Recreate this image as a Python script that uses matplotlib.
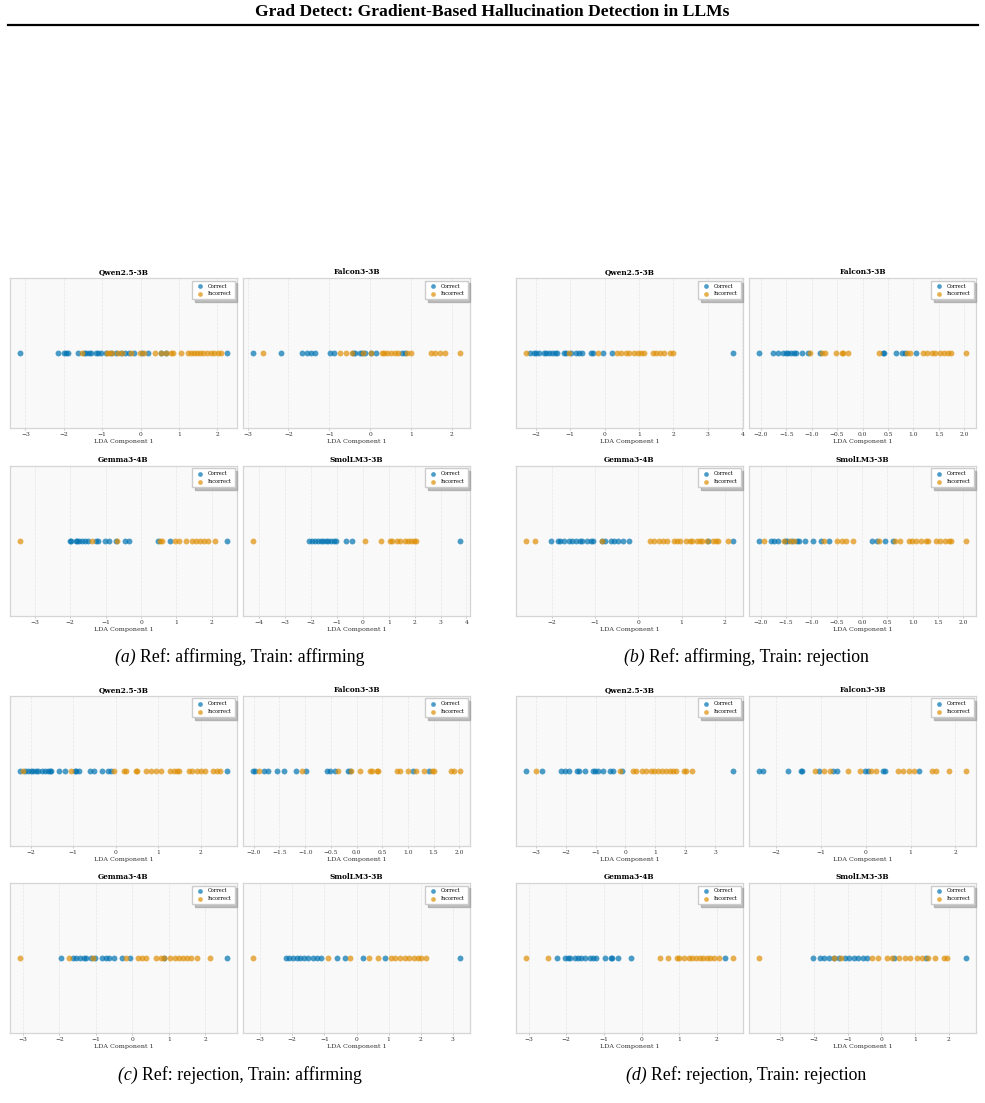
import numpy as np
import matplotlib
matplotlib.use("Agg")
import matplotlib.pyplot as plt

plt.rcParams['font.family'] = 'DejaVu Serif'
plt.rcParams['axes.unicode_minus'] = True

# ---- data (LDA component 1 values) ----
models = ["Qwen2.5-3B", "Falcon3-3B", "Gemma3-4B", "SmolLM3-3B"]
tags = ["(a)", "(b)", "(c)", "(d)"]
captions = ["Ref: affirming, Train: affirming", "Ref: affirming, Train: rejection",
            "Ref: rejection, Train: affirming", "Ref: rejection, Train: rejection"]

# (a) Ref affirming / Train affirming
a_qwen_c = [-3.13, -2.16, -2.0, -1.94, -1.88, -1.62, -1.48, -1.42, -1.35, -1.3, -1.17, -1.12,
            -1.03, -0.9, -0.78, -0.65, -0.52, -0.4, -0.3, -0.17, 0.04, 0.18, 0.53, 0.65, 2.24]
a_qwen_i = [-1.52, -0.88, -0.82, -0.74, -0.6, -0.48, -0.25, -0.02, 0.1, 0.37, 0.52, 0.67, 0.78,
            0.84, 1.04, 1.24, 1.31, 1.4, 1.48, 1.55, 1.63, 1.72, 1.82, 1.9, 2.02, 2.1]
a_falcon_c = [-2.86, -2.18, -1.66, -1.54, -1.44, -1.34, -0.99, -0.89, -0.42, -0.38, -0.25, -0.2,
              -0.13, 0.02, 0.14, 0.77, 0.84]
a_falcon_i = [-2.63, -0.75, -0.58, -0.44, -0.17, 0.03, 0.28, 0.34, 0.4, 0.52, 0.6, 0.67, 0.89, 0.99,
              1.48, 1.59, 1.71, 1.84, 2.19]
a_gemma_c = [-2.01, -1.97, -1.85, -1.8, -1.76, -1.66, -1.57, -1.5, -1.27, -1.21, -1.03, -0.91,
             -0.72, -0.46, -0.34, 0.49, 0.82, 2.42]
a_gemma_i = [-3.41, -1.38, -0.67, 0.54, 0.6, 0.96, 1.06, 1.27, 1.43, 1.55, 1.67, 1.79, 1.88, 2.1]
a_smol_c = [-2.08, -1.95, -1.86, -1.73, -1.63, -1.54, -1.41, -1.35, -1.22, -1.11, -1.02, -0.66,
            -0.4, 3.74]
a_smol_i = [-4.23, 0.08, 0.72, 1.05, 1.11, 1.31, 1.44, 1.61, 1.73, 1.86, 1.98, 2.05]

# (b) Ref affirming / Train rejection
b_qwen_c = [-2.15, -2.05, -1.98, -1.9, -1.76, -1.69, -1.61, -1.52, -1.44, -1.37, -1.18, -1.13,
            -0.98, -0.84, -0.74, -0.66, -0.4, -0.33, -0.03, 0.21, 3.72]
b_qwen_i = [-2.27, -1.03, -0.2, 0.36, 0.48, 0.62, 0.72, 0.87, 0.97, 1.06, 1.16, 1.4, 1.5, 1.62,
            1.74, 1.89, 2.0]
b_falcon_c = [-2.03, -1.76, -1.66, -1.56, -1.51, -1.46, -1.41, -1.34, -1.3, -1.2, -1.07, -0.84,
              0.41, 0.43, 0.66, 0.78, 0.83, 1.06]
b_falcon_i = [-1.03, -0.8, -0.74, -0.53, -0.41, -0.38, -0.29, 0.32, 0.88, 0.94, 1.19, 1.27, 1.36,
              1.43, 1.53, 1.61, 1.68, 1.74, 2.03]
b_gemma_c = [-2.03, -1.86, -1.81, -1.72, -1.61, -1.53, -1.45, -1.36, -1.3, -1.18, -1.1, -1.05,
             -0.83, -0.77, -0.64, -0.56, -0.46, -0.35, -0.21, 1.62, 2.18]
b_gemma_i = [-2.59, -2.38, -0.85, 0.28, 0.37, 0.47, 0.57, 0.67, 0.82, 0.89, 0.97, 1.09, 1.19,
             1.24, 1.36, 1.42, 1.48, 1.58, 1.73, 1.79, 1.85, 2.08]
b_smol_c = [-2.03, -1.8, -1.74, -1.67, -1.52, -1.49, -1.39, -1.29, -1.24, -1.13, -0.96, -0.81,
            -0.66, 0.2, 0.3, 0.46, 0.62]
b_smol_i = [-1.93, -1.54, -1.42, -1.34, -0.75, -0.5, -0.4, -0.32, -0.18, 0.33, 0.66, 0.76, 0.93,
            0.99, 1.06, 1.16, 1.26, 1.3, 1.46, 1.54, 1.64, 1.72, 1.75, 2.05]

# (c) Ref rejection / Train affirming
c_qwen_c = [-2.24, -2.12, -2.06, -2.0, -1.94, -1.88, -1.82, -1.73, -1.66, -1.6, -1.55, -1.51,
            -1.33, -1.18, -0.96, -0.92, -0.85, -0.6, -0.51, -0.33, -0.17, -0.12, 2.61]
c_qwen_i = [-2.17, -1.04, -0.04, 0.2, 0.24, 0.47, 0.51, 0.71, 0.84, 0.94, 1.07, 1.28, 1.37, 1.45,
            1.5, 1.73, 1.79, 1.91, 2.0, 2.09, 2.29, 2.38, 2.45]
c_falcon_c = [-2.01, -1.98, -1.81, -1.72, -1.54, -1.41, -1.17, -0.99, -0.58, -0.52, -0.42, -0.16,
              -0.13, 1.1, 1.41]
c_falcon_i = [-1.9, -1.07, -0.36, -0.1, 0.06, 0.26, 0.31, 0.39, 0.42, 0.79, 0.84, 1.01, 1.16, 1.31,
              1.48, 1.51, 1.85, 1.9, 2.01]
c_gemma_c = [-1.95, -1.62, -1.53, -1.44, -1.33, -1.26, -1.14, -1.01, -0.84, -0.71, -0.64, -0.5,
             -0.27, -0.06, 0.87, 2.59]
c_gemma_i = [-3.07, -1.74, -1.07, -0.18, 0.16, 0.27, 0.37, 0.64, 0.78, 0.87, 1.03, 1.17, 1.28,
             1.4, 1.51, 1.6, 1.77, 2.12]
c_smol_c = [-2.19, -2.09, -1.99, -1.86, -1.76, -1.64, -1.5, -1.34, -1.24, -1.09, -0.62, -0.36,
            0.21, 0.88, 3.21]
c_smol_i = [-3.21, -0.88, -0.19, 0.38, 0.67, 1.06, 1.19, 1.34, 1.5, 1.63, 1.78, 1.91, 2.02, 2.15]

# (d) Ref rejection / Train rejection
d_qwen_c = [-3.32, -2.78, -2.15, -2.02, -1.9, -1.62, -1.54, -1.34, -1.1, -1.01, -0.92, -0.76,
            -0.53, -0.43, -0.11, 3.59]
d_qwen_i = [-3.0, -0.17, 0.25, 0.34, 0.54, 0.69, 0.84, 0.95, 1.1, 1.23, 1.37, 1.48, 1.59, 1.7,
            1.96, 2.02, 2.22]
d_falcon_c = [-2.37, -2.29, -1.73, -1.45, -1.41, -1.03, -0.72, -0.63, -0.01, 0.06, 0.39, 0.43, 1.19]
d_falcon_i = [-1.13, -0.93, -0.8, -0.39, -0.13, 0.13, 0.24, 0.72, 0.83, 0.97, 1.08, 1.47, 1.56,
              1.86, 2.23]
d_gemma_c = [-2.24, -2.04, -1.95, -1.89, -1.76, -1.69, -1.6, -1.49, -1.38, -1.29, -1.2, -0.98,
             -0.82, -0.78, -0.62, -0.27, 2.22]
d_gemma_i = [-3.06, -2.48, 0.49, 0.71, 0.93, 0.99, 1.13, 1.26, 1.35, 1.45, 1.55, 1.64, 1.73, 1.81,
             1.92, 2.06, 2.42]
d_smol_c = [-2.04, -1.83, -1.71, -1.56, -1.42, -1.27, -1.09, -0.97, -0.82, -0.69, -0.55, -0.43,
            0.37, 1.31, 2.5]
d_smol_i = [-3.62, -1.42, -1.19, -0.28, -0.1, 0.17, 0.32, 0.51, 0.71, 0.86, 1.06, 1.21, 1.39, 1.6,
            1.85, 1.95]

panels = [
    [(a_qwen_c, a_qwen_i), (a_falcon_c, a_falcon_i), (a_gemma_c, a_gemma_i), (a_smol_c, a_smol_i)],
    [(b_qwen_c, b_qwen_i), (b_falcon_c, b_falcon_i), (b_gemma_c, b_gemma_i), (b_smol_c, b_smol_i)],
    [(c_qwen_c, c_qwen_i), (c_falcon_c, c_falcon_i), (c_gemma_c, c_gemma_i), (c_smol_c, c_smol_i)],
    [(d_qwen_c, d_qwen_i), (d_falcon_c, d_falcon_i), (d_gemma_c, d_gemma_i), (d_smol_c, d_smol_i)],
]

BLUE = '#0173B2'
ORANGE = '#DE8F05'

# ---- figure ----
FW, FH = 985, 1103
fig = plt.figure(figsize=(FW / 100, FH / 100), dpi=100)

fig.text(0.5, 1 - 12 / FH, "Grad Detect: Gradient-Based Hallucination Detection in LLMs",
         ha='center', va='center', fontsize=12.6, fontweight='bold', family='Liberation Serif')
fig.add_artist(plt.Line2D([8 / FW, 978 / FW], [1 - 25 / FH, 1 - 25 / FH], color='black', lw=1.6))

col_x = [10, 243, 516, 749]
row_top = [278, 466, 696, 883]
W, H = 227, 150

for k in range(4):
    sc, sr = k % 2, k // 2
    for j in range(4):
        pc, pr = j % 2, j // 2
        x0 = col_x[sc * 2 + pc]
        yt = row_top[sr * 2 + pr]
        ax = fig.add_axes([x0 / FW, 1 - (yt + H) / FH, W / FW, H / FH])
        corr, inc = panels[k][j]
        ax.set_facecolor('#f9f9f9')
        ax.scatter(corr, np.zeros(len(corr)), s=18, color=BLUE, alpha=0.7, lw=0, label='Correct', zorder=3)
        ax.scatter(inc, np.zeros(len(inc)), s=18, color=ORANGE, alpha=0.7, lw=0, label='Incorrect', zorder=3)
        ax.set_ylim(-1, 1)
        ax.set_yticks([])
        ax.grid(True, axis='x', linestyle='--', color='#dddddd', lw=0.5, alpha=0.7)
        ax.set_axisbelow(True)
        for s in ax.spines.values():
            s.set_color('#d5d5d5')
            s.set_linewidth(0.9)
        ax.tick_params(axis='x', labelsize=4.3, length=1.5, width=0.4, color='#999999', pad=1.5,
                       labelcolor='#333333')
        ax.set_title(models[j], fontsize=5.3, fontweight='bold', pad=3)
        ax.set_xlabel("LDA Component 1", fontsize=4.6, labelpad=1, color='#333333')
        ax.legend(loc='upper right', fontsize=3.6, frameon=True,
                  shadow={'color': '#999999', 'alpha': 0.6}, fancybox=False,
                  framealpha=1, edgecolor='#cccccc', borderpad=0.6, handletextpad=0.6,
                  labelspacing=0.5, markerscale=0.8)

# ---- sub-figure captions ----
renderer = fig.canvas.get_renderer()
cap_y = [657, 657, 1075, 1075]
cap_x = [240, 746, 240, 746]
for k in range(4):
    t1 = fig.text(0, 0, tags[k] + " ", fontsize=12.8, style='italic', family='Liberation Serif')
    t2 = fig.text(0, 0, captions[k], fontsize=12.8, family='Liberation Serif')
    w1 = t1.get_window_extent(renderer).width
    w2 = t2.get_window_extent(renderer).width
    left = cap_x[k] - (w1 + w2) / 2
    t1.set_position((left / FW, 1 - cap_y[k] / FH))
    t1.set_va('center')
    t2.set_position(((left + w1) / FW, 1 - cap_y[k] / FH))
    t2.set_va('center')

fig.savefig("out.png", dpi=100)
